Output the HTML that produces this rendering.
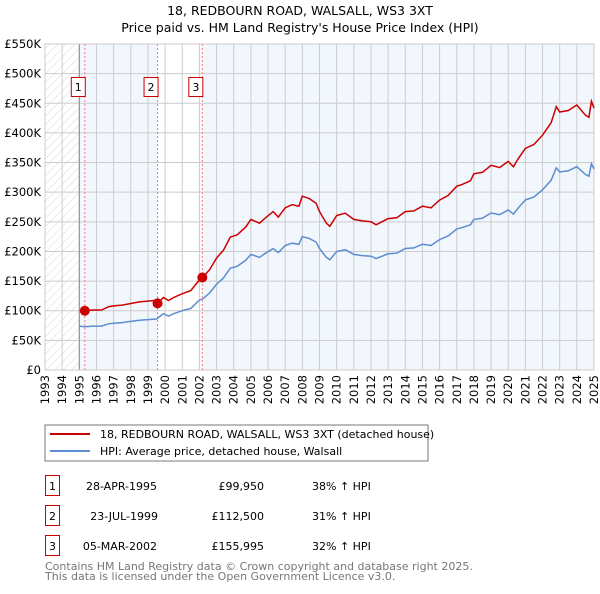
<!DOCTYPE html>
<html><head><meta charset="utf-8"><style>
body{margin:0;background:#fff;font-family:"DejaVu Sans","Liberation Sans",sans-serif;}
svg text{font-family:"DejaVu Sans","Liberation Sans",sans-serif;}
</style></head><body>
<svg id="c" width="600" height="590" xmlns="http://www.w3.org/2000/svg">
<defs><pattern id="hatch" width="6" height="6" patternUnits="userSpaceOnUse" patternTransform="rotate(45)"><line x1="0" y1="0" x2="0" y2="6" stroke="#d8d8d8" stroke-width="1"/></pattern></defs>
<text x="300" y="15" text-anchor="middle" font-size="12.5">18, REDBOURN ROAD, WALSALL, WS3 3XT</text>
<text x="300" y="32" text-anchor="middle" font-size="12.5">Price paid vs. HM Land Registry's House Price Index (HPI)</text>
<g id="plot"></g>
<rect x="45" y="425" width="383" height="36" fill="#fff" stroke="#777"/>
<line x1="50" y1="434" x2="90" y2="434" stroke="#cc0000" stroke-width="2"/>
<text x="100" y="438" font-size="11">18, REDBOURN ROAD, WALSALL, WS3 3XT (detached house)</text>
<line x1="50" y1="451" x2="90" y2="451" stroke="#5b8dd0" stroke-width="2"/>
<text x="100" y="455" font-size="11">HPI: Average price, detached house, Walsall</text>
<g font-size="11">
<rect x="45.5" y="475.5" width="14" height="20" fill="none" stroke="#cc0000"/><text x="52.5" y="490" text-anchor="middle">1</text>
<text x="157" y="490" text-anchor="end">28-APR-1995</text><text x="264" y="490" text-anchor="end">£99,950</text><text x="312" y="490">38% ↑ HPI</text>
<rect x="45.5" y="505.5" width="14" height="20" fill="none" stroke="#cc0000"/><text x="52.5" y="520" text-anchor="middle">2</text>
<text x="158" y="520" text-anchor="end">23-JUL-1999</text><text x="264" y="520" text-anchor="end">£112,500</text><text x="312" y="520">31% ↑ HPI</text>
<rect x="45.5" y="535.5" width="14" height="20" fill="none" stroke="#cc0000"/><text x="52.5" y="550" text-anchor="middle">3</text>
<text x="157" y="550" text-anchor="end">05-MAR-2002</text><text x="264" y="550" text-anchor="end">£155,995</text><text x="312" y="550">32% ↑ HPI</text>
</g>
<text x="45" y="570" font-size="11" fill="#777">Contains HM Land Registry data © Crown copyright and database right 2025.</text>
<text x="45" y="580" font-size="11" fill="#777">This data is licensed under the Open Government Licence v3.0.</text>
</svg>
<script>
const hpiYears=[1995.0,1995.3,1995.8,1996.3,1996.7,1997.0,1997.5,1998.0,1998.5,1999.0,1999.5,1999.9,2000.2,2000.5,2001.0,2001.5,2002.0,2002.2,2002.6,2003.0,2003.4,2003.8,2004.2,2004.7,2005.0,2005.5,2005.8,2006.3,2006.6,2007.0,2007.4,2007.8,2008.0,2008.4,2008.8,2009.0,2009.4,2009.6,2010.0,2010.5,2011.0,2011.5,2012.0,2012.3,2013.0,2013.5,2014.0,2014.5,2015.0,2015.5,2016.0,2016.5,2017.0,2017.3,2017.8,2018.0,2018.5,2019.0,2019.5,2020.0,2020.3,2020.6,2021.0,2021.5,2022.0,2022.5,2022.8,2023.0,2023.5,2024.0,2024.5,2024.7,2024.85,2025.0];
const hpiValues=[74,73,74,74,78,79,80,82,84,85,86,95,91,95,100,104,118,120,130,145,155,172,175,185,195,190,196,205,198,210,214,212,225,222,216,205,190,186,200,203,195,193,192,188,196,197,205,206,212,210,220,226,238,240,245,254,256,265,262,270,263,274,287,292,304,320,341,334,336,343,330,327,348,339];
const saleYears=[1995.32,1999.56,2002.17];
const salePrices=[99950,112500,155995];
const saleLabels=["1","2","3"];
const yTicks=[0,50000,100000,150000,200000,250000,300000,350000,400000,450000,500000,550000];
const yTickLabels=["£0","£50K","£100K","£150K","£200K","£250K","£300K","£350K","£400K","£450K","£500K","£550K"];
const xTicks=[1993,1994,1995,1996,1997,1998,1999,2000,2001,2002,2003,2004,2005,2006,2007,2008,2009,2010,2011,2012,2013,2014,2015,2016,2017,2018,2019,2020,2021,2022,2023,2024,2025];

const X0=45,X1=594,Y0=370,Y1=44;
const xs=y=>X0+(y-1993)/(2025-1993)*(X1-X0);
const ys=v=>Y0-v/550000*(Y0-Y1);
const NS="http://www.w3.org/2000/svg";
const g=document.getElementById('plot');
function mk(t,a){const e=document.createElementNS(NS,t);for(const k in a)e.setAttribute(k,a[k]);g.appendChild(e);return e;}
function hpiAt(t){for(let i=0;i<hpiYears.length-1;i++){if(t<=hpiYears[i+1]){const f=(t-hpiYears[i])/(hpiYears[i+1]-hpiYears[i]);return (hpiValues[i]+f*(hpiValues[i+1]-hpiValues[i]))*1000;}}return hpiValues[hpiValues.length-1]*1000;}

let e;
e=mk('rect',{x:X0,y:Y1,width:X1-X0,height:Y0-Y1,fill:'#fff'});


e=mk('rect',{x:xs(1995),y:Y1,width:xs(saleYears[1])-xs(1995),height:Y0-Y1,fill:'#f2f6fd'});


e=mk('rect',{x:xs(saleYears[2]),y:Y1,width:X1-xs(saleYears[2]),height:Y0-Y1,fill:'#f2f6fd'});


e=mk('rect',{x:X0,y:Y1,width:xs(1995)-X0,height:Y0-Y1,fill:'url(#hatch)'});


yTicks.forEach((v,i)=>{
  e=mk('line',{x1:X0,x2:X1,y1:ys(v),y2:ys(v),stroke:'#ccc','stroke-width':1});
  
  
  e=mk('text',{x:X0-4,y:ys(v)+4,'text-anchor':'end','font-size':11.5});
  e.textContent=yTickLabels[i];
  
  
});
xTicks.forEach(y=>{
  e=mk('line',{x1:xs(y),x2:xs(y),y1:Y1,y2:Y0,stroke:'#ccc','stroke-width':1});
  
  
  e=mk('text',{x:0,y:0,'text-anchor':'end','font-size':11.5,transform:`translate(${xs(y)+4},${Y0+5}) rotate(-90)`});
  e.textContent=y;
  
  
});
e=mk('line',{x1:xs(1995),x2:xs(1995),y1:Y1,y2:Y0,stroke:'#888','stroke-width':1});


e=mk('rect',{x:X0,y:Y1,width:X1-X0,height:Y0-Y1,fill:'none',stroke:'#ccc'});


saleYears.forEach((t,i)=>{
  e=mk('line',{x1:xs(t),x2:xs(t),y1:Y1,y2:Y0,stroke:'#f08080','stroke-width':1,'stroke-dasharray':'2,2'});
  
  
  e=mk('rect',{x:xs(t)-13.5,y:77.5,width:14,height:19,fill:'#fff',stroke:'#cc0000'});
  
  
  e=mk('text',{x:xs(t)-6.5,y:91,'text-anchor':'middle','font-size':11});
  e.textContent=saleLabels[i];
  
  
});
let d='';
hpiYears.forEach((t,i)=>{d+=(i?'L':'M')+xs(t).toFixed(1)+','+ys(hpiValues[i]*1000).toFixed(1);});
e=mk('path',{d:d,fill:'none',stroke:'#5b8dd0','stroke-width':1.5});


let pd='';
const pts=[];
for(let s=0;s<saleYears.length;s++){
  const start=saleYears[s], end=s<saleYears.length-1?saleYears[s+1]:2025;
  const r=salePrices[s]/hpiAt(start);
  pts.push([start,salePrices[s]]);
  hpiYears.forEach((t,i)=>{if(t>start&&t<end)pts.push([t,hpiValues[i]*1000*r]);});
  if(s===saleYears.length-1)pts.push([2025,hpiAt(2025)*r]);
  else pts.push([end,hpiAt(end)*r]);
}
pts.forEach((p,i)=>{pd+=(i?'L':'M')+xs(p[0]).toFixed(1)+','+ys(p[1]).toFixed(1);});
e=mk('path',{d:pd,fill:'none',stroke:'#cc0000','stroke-width':1.5});


saleYears.forEach((t,i)=>{
  e=mk('circle',{cx:xs(t),cy:ys(salePrices[i]),r:5,fill:'#cc0000'});
  
  
});
</script>
</body></html>
